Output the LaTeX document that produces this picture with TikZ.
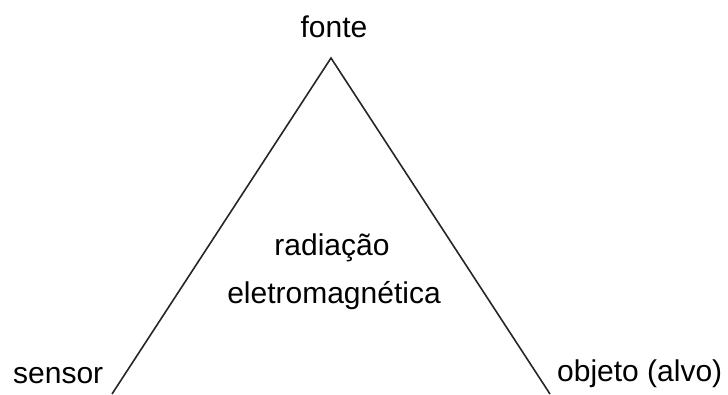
\documentclass[tikz,border=0pt]{standalone}
\usepackage{fontspec}
\setmainfont{Liberation Sans}
\begin{document}
\begin{tikzpicture}[x=1pt,y=-1pt,
  lbl/.style={inner sep=0pt,anchor=base,font=\fontsize{30}{36}\selectfont},
  side/.style={draw=black!85,line width=1.6pt}]
\useasboundingbox (0,0) rectangle (728,394);
\coordinate (apex) at (331,58);
\coordinate (bl) at (112,394);
\coordinate (br) at (550,394);
\draw[side] (bl) -- (apex) -- (br);
\node[lbl] (fonte) at (334,37) {fonte};
\node[lbl] (rad) at (332,255) {radiação};
\node[lbl] (eletro) at (334,303) {eletromagnética};
\node[lbl,anchor=base west] (sensor) at (13,383) {sensor};
\node[lbl,anchor=base west] (objeto) at (557,381) {objeto (alvo)};
\end{tikzpicture}
\end{document}
